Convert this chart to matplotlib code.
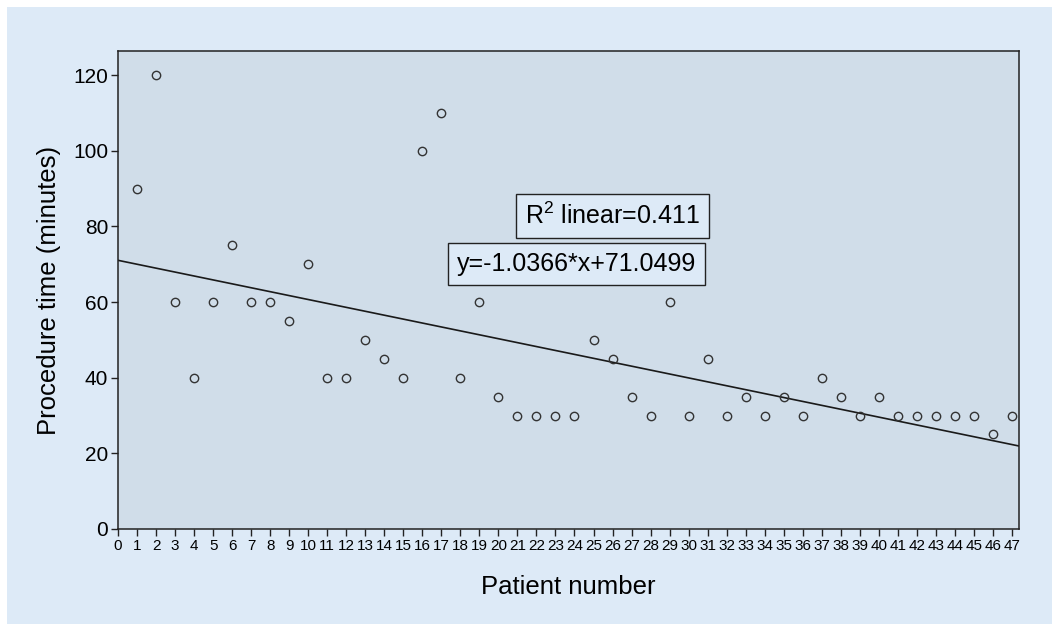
import numpy as np
import matplotlib
matplotlib.use("Agg")
import matplotlib.pyplot as plt
from matplotlib.patches import Rectangle

patient = list(range(1, 48))
minutes = [90, 120, 60, 40, 60, 75, 60, 60, 55, 70,
           40, 40, 50, 45, 40, 100, 110, 40, 60, 35,
           30, 30, 30, 30, 50, 45, 35, 30, 60, 30,
           45, 30, 35, 30, 35, 30, 40, 35, 30, 35,
           30, 30, 30, 30, 30, 25, 30]
slope = -1.0366
intercept = 71.0499
r2_label = "R$^2$ linear=0.411"
eq_label = "y=-1.0366*x+71.0499"

plt.rcParams['font.family'] = ['Liberation Sans', 'DejaVu Sans']
plt.rcParams['mathtext.fontset'] = 'custom'
plt.rcParams['mathtext.rm'] = 'Liberation Sans'

fig = plt.figure(figsize=(10.52, 6.24), dpi=100)
fig.patch.set_facecolor('white')

# light blue panel behind everything
bg = fig.add_axes([0, 0, 1, 1], zorder=-5)
bg.add_patch(Rectangle((7 / 1052, 0), 1, 1 - 7 / 624, transform=bg.transAxes,
                       facecolor='#DDEAF7', edgecolor='none'))
bg.set_axis_off()

ax = fig.add_axes([118 / 1052, 1 - 529 / 624, 901 / 1052, 478 / 624])
ax.set_facecolor('#D0DDE9')

ax.plot(patient, minutes, 'o', ms=6, mfc='none', mec='#333333', mew=1.0, zorder=3)
xs = np.array([0, 47.4])
ax.plot(xs, slope * xs + intercept, color='#1a1a1a', lw=1.2, zorder=2)

ax.set_xlim(0, 47.37)
ax.set_ylim(0, 126.4)
ax.set_xticks(range(0, 48))
ax.set_yticks(range(0, 121, 20))
ax.tick_params(axis='x', length=5, width=1, labelsize=11, pad=2, color='#222222')
ax.tick_params(axis='y', length=5, width=1, labelsize=15, pad=2, color='#222222')
for s in ax.spines.values():
    s.set_color('#222222')
    s.set_linewidth(1.1)

ax.set_xlabel('Patient number', fontsize=18.5, labelpad=16)
ax.set_ylabel('Procedure time (minutes)', fontsize=18.5, labelpad=9)

box = dict(boxstyle='square,pad=0.36', facecolor='#DDEAF7', edgecolor='#222222', lw=1.0)
ax.text(26.0, 82.8, r2_label, fontsize=18, ha='center', va='center', bbox=box, zorder=4)
ax.text(24.1, 70.1, eq_label, fontsize=18, ha='center', va='center', bbox=box, zorder=4)

fig.savefig('out.png', dpi=100, facecolor=fig.get_facecolor())
